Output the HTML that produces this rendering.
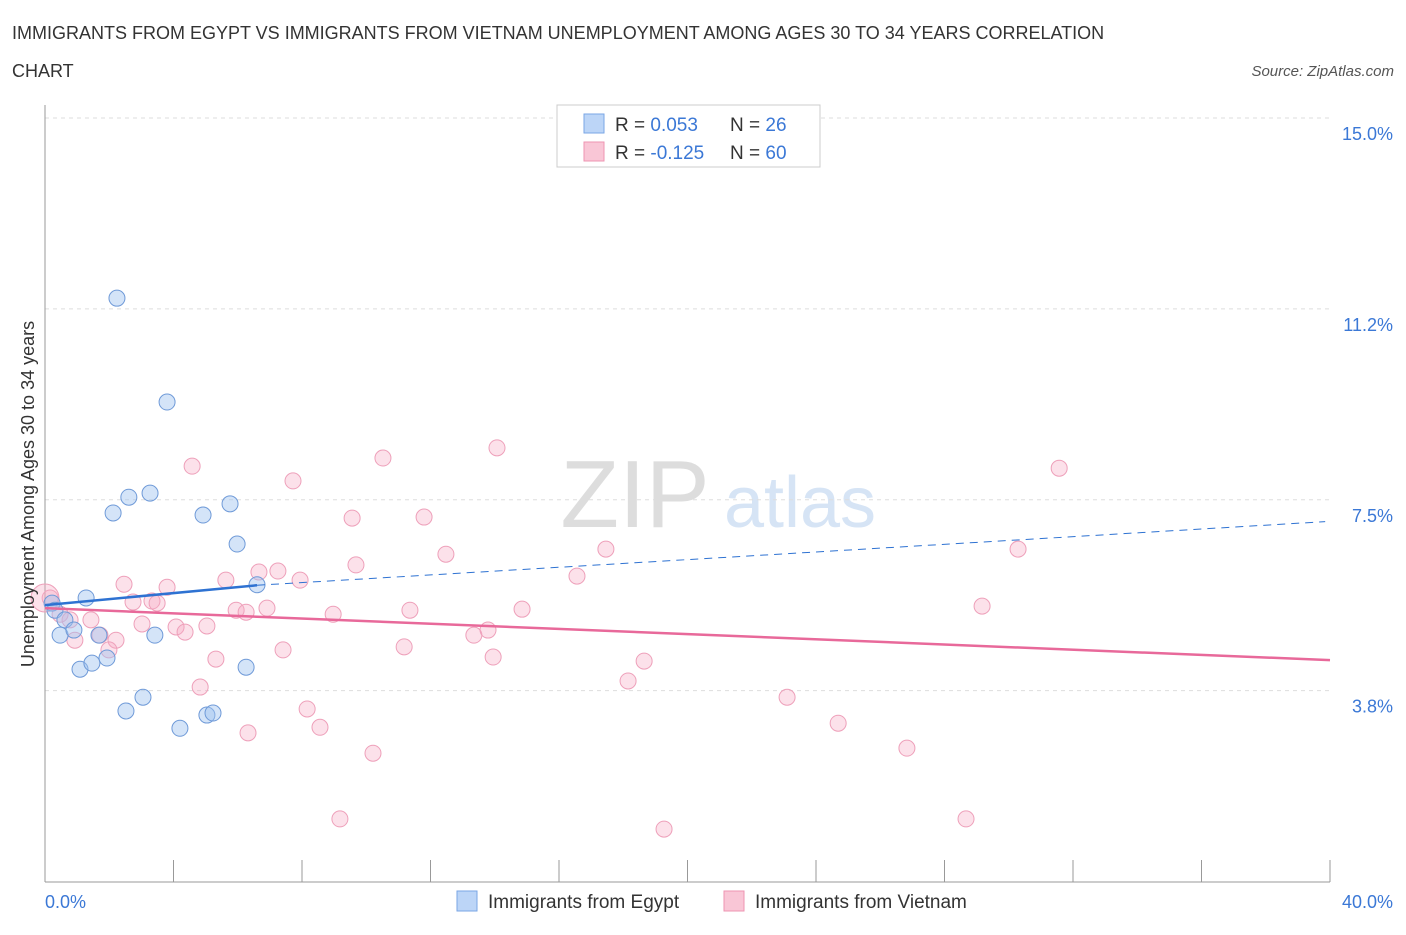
<!DOCTYPE html>
<html><head><meta charset="utf-8"><style>
body{margin:0;background:#fff;font-family:"Liberation Sans",sans-serif;}
svg text{font-family:"Liberation Sans",sans-serif;}
</style></head><body>
<svg id="chart" width="1406" height="930" xmlns="http://www.w3.org/2000/svg">
<text x="12" y="39" font-size="18" fill="#333">IMMIGRANTS FROM EGYPT VS IMMIGRANTS FROM VIETNAM UNEMPLOYMENT AMONG AGES 30 TO 34 YEARS CORRELATION</text>
<text x="12" y="77" font-size="18" fill="#333">CHART</text>
<text x="1394" y="76" font-size="15" fill="#555" text-anchor="end" font-style="italic">Source: ZipAtlas.com</text>
<text x="635" y="527" font-size="96" fill="#ddd" text-anchor="middle" font-family="Liberation Serif">ZIP</text>
<text x="800" y="527" font-size="72" fill="#d6e4f5" text-anchor="middle">atlas</text>
<g id="grid"></g><g id="axes"></g><g id="marks"></g>
<g>
<rect x="557" y="105" width="263" height="62" fill="#fff" stroke="#ccc"/>
<rect x="584" y="114" width="20" height="19" fill="#bcd5f7" stroke="#7aa6e6"/>
<rect x="584" y="142" width="20" height="19" fill="#f9c6d6" stroke="#ee94b2"/>
<text x="615" y="131" font-size="19" fill="#333">R = <tspan fill="#3b78d6"> 0.053</tspan></text>
<text x="730" y="131" font-size="19" fill="#333">N = <tspan fill="#3b78d6"> 26</tspan></text>
<text x="615" y="159" font-size="19" fill="#333">R = <tspan fill="#3b78d6">-0.125</tspan></text>
<text x="730" y="159" font-size="19" fill="#333">N = <tspan fill="#3b78d6"> 60</tspan></text>
</g>
<g>
<rect x="457" y="891" width="20" height="20" fill="#bcd5f7" stroke="#7aa6e6"/>
<text x="488" y="908" font-size="19" fill="#333">Immigrants from Egypt</text>
<rect x="724" y="891" width="20" height="20" fill="#f9c6d6" stroke="#ee94b2"/>
<text x="755" y="908" font-size="19" fill="#333">Immigrants from Vietnam</text>
</g>
<text transform="translate(34,494) rotate(-90)" font-size="18" fill="#333" text-anchor="middle">Unemployment Among Ages 30 to 34 years</text>
</svg>
<script>
const yTicks=[15.0,11.25,7.5,3.75];
const yTickLabels=["15.0%","11.2%","7.5%","3.8%"];
const xTickLabels=["0.0%","40.0%"];
const egyptX=[2.24,3.80,2.61,3.27,2.12,4.92,5.76,5.98,6.60,1.28,0.22,0.31,0.62,0.47,0.90,1.68,3.42,1.09,1.46,1.93,6.26,3.05,2.52,5.04,5.23,4.20];
const egyptY=[11.46,9.42,7.55,7.63,7.24,7.20,7.42,6.63,5.83,5.57,5.47,5.33,5.14,4.84,4.94,4.84,4.84,4.17,4.29,4.39,4.21,3.62,3.35,3.27,3.31,3.01];
const vietX=[14.07,10.52,4.58,31.57,7.72,9.56,11.80,12.48,17.46,30.29,9.68,16.56,6.66,7.25,7.94,5.63,2.46,3.80,2.74,3.33,3.49,29.17,5.95,6.91,6.26,11.36,14.85,8.97,2.21,1.43,1.71,3.02,4.08,4.36,5.04,0.93,1.99,7.41,11.18,13.35,13.79,5.32,13.95,18.65,18.15,4.83,23.10,8.16,24.69,8.56,6.32,10.21,26.83,9.18,19.27,28.67,0.16,0.47,0.78,0.0];
const vietY=[8.52,8.32,8.16,8.12,7.87,7.14,7.16,6.43,6.53,6.53,6.22,6.00,6.08,6.10,5.92,5.92,5.84,5.78,5.49,5.51,5.47,5.41,5.33,5.37,5.29,5.33,5.35,5.25,4.74,5.14,4.84,5.06,5.00,4.90,5.02,4.74,4.55,4.55,4.61,4.84,4.94,4.37,4.41,4.33,3.94,3.82,3.62,3.39,3.11,3.03,2.92,2.52,2.62,1.23,1.03,1.23,5.57,5.25,5.14,5.57];
const egyptTrend=[[0,5.43],[6.6,5.82],[39.85,7.07]];
const vietTrend=[[0,5.37],[40,4.35]];
const X=v=>45+v/40*1285, Y=v=>118+(15-v)*50.9;
const NS="http://www.w3.org/2000/svg";
function mk(parent,tag,attrs){const e=document.createElementNS(NS,tag);for(const k in attrs)e.setAttribute(k,attrs[k]);document.getElementById(parent).appendChild(e);return e;}
yTicks.forEach((t,i)=>{
 const g=mk('grid','line',{x1:45,x2:1330,y1:Y(t),y2:Y(t),stroke:'#ddd','stroke-dasharray':'4,4'});
 
 
 const l=mk('axes','text',{x:1393,y:Y(t)+22,'font-size':18,fill:'#3b78d6','text-anchor':'end'});l.textContent=yTickLabels[i];
 
 
});
const ax=mk('axes','line',{x1:45,x2:1330,y1:882,y2:882,stroke:'#999'});


const ay=mk('axes','line',{x1:45,x2:45,y1:105,y2:882,stroke:'#999'});


for(let i=0;i<=10;i++){const t=mk('axes','line',{x1:X(i*4),x2:X(i*4),y1:860,y2:882,stroke:'#999'});
 
 }
[[0,'start',45],[1,'end',1393]].forEach(([i,a,x])=>{const l=mk('axes','text',{x:x,y:908,'font-size':18,fill:'#3b78d6','text-anchor':a});l.textContent=xTickLabels[i];
 
 });
vietX.forEach((v,i)=>{const c=mk('marks','circle',{cx:X(v),cy:Y(vietY[i]),r:i==59?14:8,fill:'rgba(246,170,196,0.35)',stroke:'#eea0ba','stroke-width':1});
 
 });
egyptX.forEach((v,i)=>{const c=mk('marks','circle',{cx:X(v),cy:Y(egyptY[i]),r:8,fill:'rgba(160,196,240,0.45)',stroke:'#6f9ad8','stroke-width':1});
 
 });
const t1=mk('marks','line',{x1:X(egyptTrend[0][0]),y1:Y(egyptTrend[0][1]),x2:X(egyptTrend[1][0]),y2:Y(egyptTrend[1][1]),stroke:'#2e72d2','stroke-width':2.5});


const t2=mk('marks','line',{x1:X(egyptTrend[1][0]),y1:Y(egyptTrend[1][1]),x2:X(egyptTrend[2][0]),y2:Y(egyptTrend[2][1]),stroke:'#2e72d2','stroke-width':1,'stroke-dasharray':'8,6'});


const t3=mk('marks','line',{x1:X(vietTrend[0][0]),y1:Y(vietTrend[0][1]),x2:X(vietTrend[1][0]),y2:Y(vietTrend[1][1]),stroke:'#e8699a','stroke-width':2.5});


</script>
</body></html>
